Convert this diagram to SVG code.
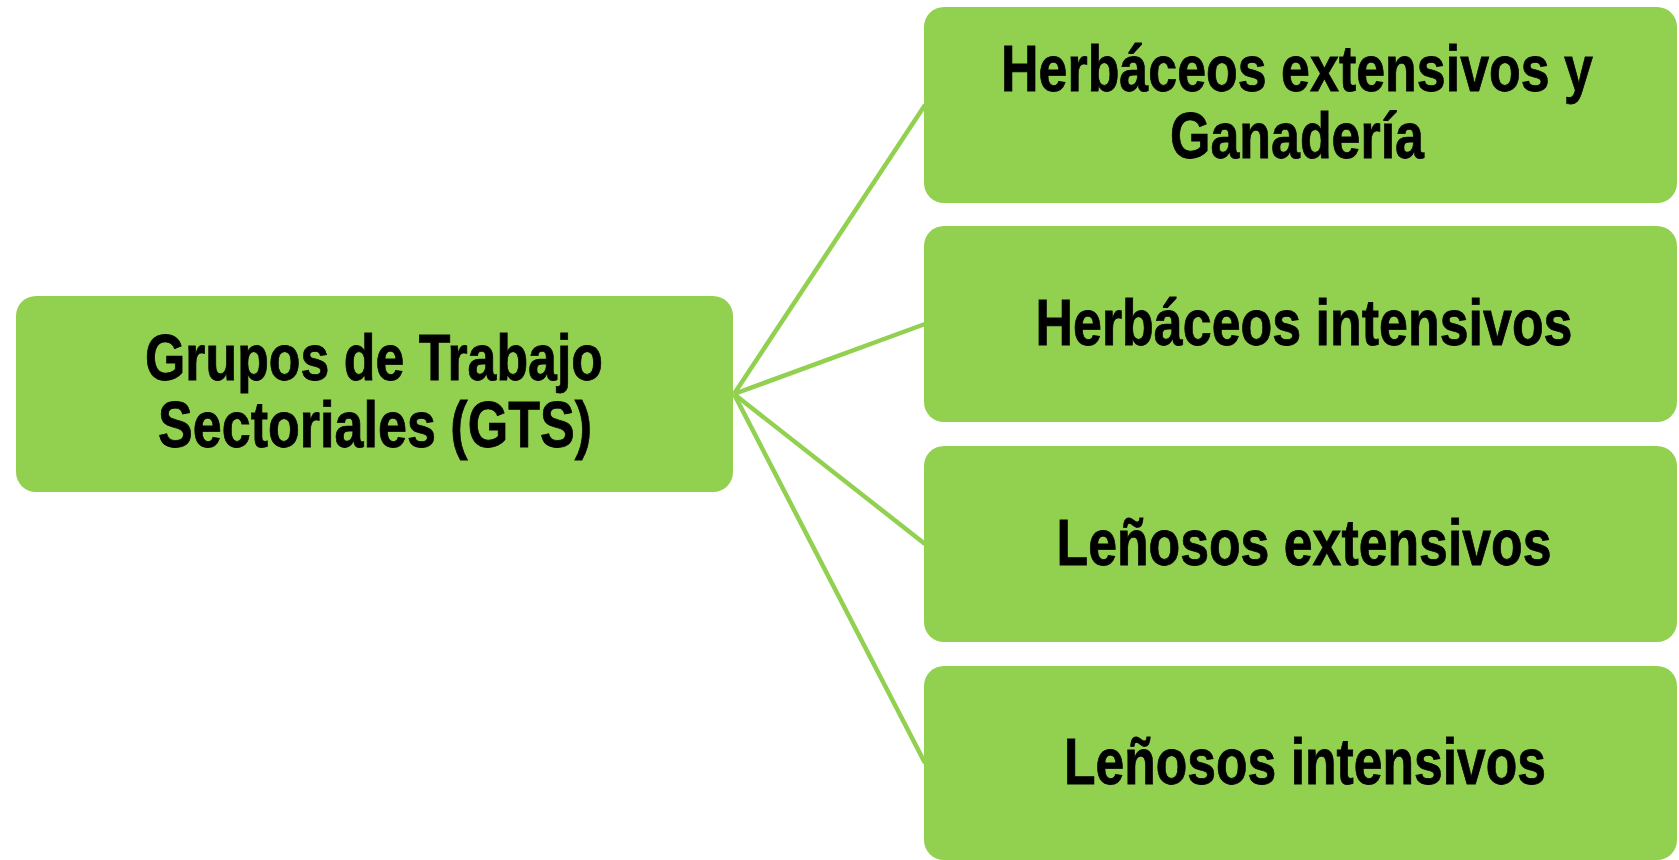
<svg xmlns="http://www.w3.org/2000/svg" width="1679" height="860" viewBox="0 0 1679 860">
<style>
.box{fill:#92D050;}
.t{font-family:"Liberation Sans",Arial,sans-serif;font-weight:bold;font-size:64px;fill:#000;stroke:#000;stroke-width:0.8;text-anchor:middle;}
.c{stroke:#92D050;stroke-width:4.5;fill:none;}
</style>
<rect width="1679" height="860" fill="#fff"/>
<g id="connectors">
<line class="c" x1="734" y1="394" x2="925" y2="105"/>
<line class="c" x1="734" y1="394" x2="925" y2="324"/>
<line class="c" x1="734" y1="394" x2="925" y2="544"/>
<line class="c" x1="734" y1="394" x2="925" y2="763"/>
</g>
<g id="gts">
<rect class="box" x="16" y="296" width="717" height="196" rx="20"/>
<text class="t" x="374" y="380" textLength="458" lengthAdjust="spacingAndGlyphs">Grupos de Trabajo</text>
<text class="t" x="375" y="447" textLength="434" lengthAdjust="spacingAndGlyphs">Sectoriales (GTS)</text>
</g>
<g id="herb-ext">
<rect class="box" x="924" y="7" width="753" height="196" rx="20"/>
<text class="t" x="1297" y="91" textLength="592" lengthAdjust="spacingAndGlyphs">Herbáceos extensivos y</text>
<text class="t" x="1297" y="158" textLength="254" lengthAdjust="spacingAndGlyphs">Ganadería</text>
</g>
<g id="herb-int">
<rect class="box" x="924" y="226" width="753" height="196" rx="20"/>
<text class="t" x="1304" y="345" textLength="537" lengthAdjust="spacingAndGlyphs">Herbáceos intensivos</text>
</g>
<g id="len-ext">
<rect class="box" x="924" y="446" width="753" height="196" rx="20"/>
<text class="t" x="1304" y="565" textLength="495" lengthAdjust="spacingAndGlyphs">Leñosos extensivos</text>
</g>
<g id="len-int">
<rect class="box" x="924" y="666" width="753" height="194" rx="20"/>
<text class="t" x="1305" y="784" textLength="482" lengthAdjust="spacingAndGlyphs">Leñosos intensivos</text>
</g>
</svg>
